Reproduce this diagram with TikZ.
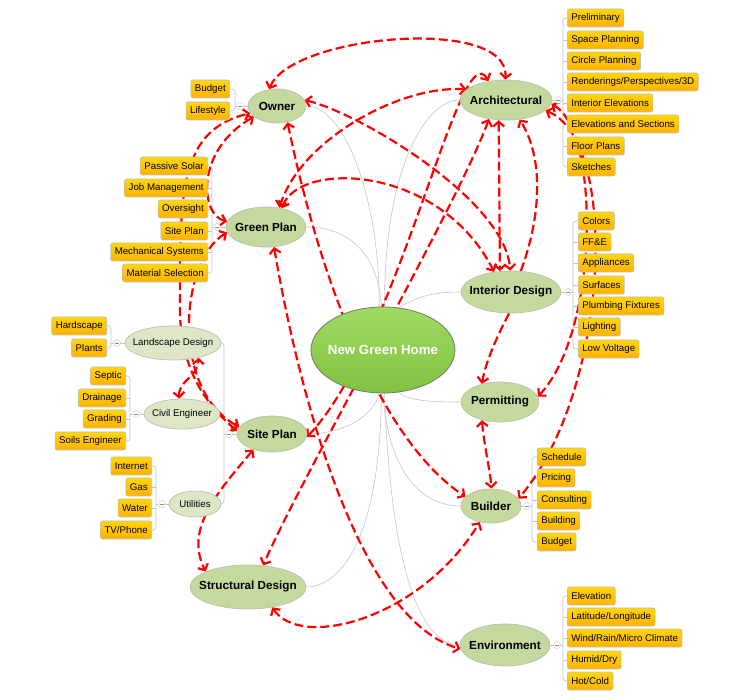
\documentclass[tikz,border=0pt]{standalone}
\usepackage{fontspec}
\setmainfont{Liberation Sans}
\usetikzlibrary{shapes.geometric,arrows.meta,backgrounds,shadings}
\definecolor{topicfill}{RGB}{197,216,157}
\definecolor{topicline}{RGB}{185,192,172}
\definecolor{subfill}{RGB}{221,231,199}
\definecolor{centertop}{RGB}{160,218,100}
\definecolor{centerbot}{RGB}{128,194,64}
\definecolor{centerline}{RGB}{112,128,100}
\definecolor{boxtop}{RGB}{255,214,12}
\definecolor{boxbot}{RGB}{255,178,0}
\definecolor{boxline}{RGB}{190,190,190}
\definecolor{treeline}{RGB}{196,196,196}
\definecolor{relred}{RGB}{255,0,0}
\newcommand{\ctext}[1]{\makebox[0pt]{#1}}
\begin{document}
\begin{tikzpicture}[x=1pt,y=-1pt,
  topic/.style={ellipse, draw=topicline, line width=0.7pt, fill=topicfill, inner sep=0pt, font=\fontsize{11.7}{12}\selectfont\bfseries},
  subtopic/.style={ellipse, draw=topicline, line width=0.7pt, fill=subfill, inner sep=0pt, font=\fontsize{9.7}{10}\selectfont},
  leafbox/.style={rectangle, rounded corners=2pt, draw=boxline, line width=0.6pt, top color=boxtop, bottom color=boxbot, minimum height=18pt, inner xsep=4pt, inner ysep=0pt, font=\fontsize{9.7}{10}\selectfont},
  rleaf/.style={leafbox, anchor=west},
  lleaf/.style={leafbox, anchor=east},
  tree/.style={draw=treeline, line width=0.6pt},
  rel/.style={draw=relred, line width=2.2pt, dash pattern=on 9pt off 4pt, >={Straight Barb[length=5pt,width=11pt]}},
  collapse/.style={circle, draw=treeline, fill=white, minimum size=7pt, inner sep=0pt,
    path picture={\draw[black!45,line width=0.5pt] ([xshift=-2pt]path picture bounding box.center) -- ([xshift=2pt]path picture bounding box.center);}}
]
\useasboundingbox (0,0) rectangle (729,700);

% main topics
\node[ellipse, draw=centerline, line width=0.8pt, top color=centertop, bottom color=centerbot, minimum width=144pt, minimum height=86pt, inner sep=0pt, text=white, font=\fontsize{13.3}{14}\selectfont\bfseries] (cn) at (383,350) {\ctext{New Green Home}};
\node[topic, minimum width=58pt, minimum height=34pt] (owner) at (277,106) {\ctext{Owner}};
\node[topic, minimum width=92pt, minimum height=40pt] (arch) at (506,100) {\ctext{Architectural}};
\node[topic, minimum width=80pt, minimum height=40pt] (gp) at (266,227) {\ctext{Green Plan}};
\node[topic, minimum width=100pt, minimum height=42pt] (id) at (511,292) {\ctext{Interior Design}};
\node[topic, minimum width=78pt, minimum height=40pt] (perm) at (500,402) {\ctext{Permitting}};
\node[topic, minimum width=70pt, minimum height=36pt] (sp) at (272,434) {\ctext{Site Plan}};
\node[topic, minimum width=60pt, minimum height=34pt] (bu) at (491,506) {\ctext{Builder}};
\node[topic, minimum width=116pt, minimum height=44pt] (sd) at (248,587) {\ctext{Structural Design}};
\node[topic, minimum width=90pt, minimum height=42pt] (en) at (505,645) {\ctext{Environment}};
\node[subtopic, minimum width=96pt, minimum height=34pt] (ld) at (173,343) {\ctext{Landscape Design}};
\node[subtopic, minimum width=76pt, minimum height=30pt] (ce) at (182,414) {\ctext{Civil Engineer}};
\node[subtopic, minimum width=52pt, minimum height=26pt] (ut) at (195,504) {\ctext{Utilities}};

% leaves
\node[rleaf] (a1) at (567,18) {Preliminary};
\node[rleaf] (a2) at (567,40) {Space Planning};
\node[rleaf] (a3) at (567,61) {Circle Planning};
\node[rleaf] (a4) at (567,82) {Renderings/Perspectives/3D};
\node[rleaf] (a5) at (567,103) {Interior Elevations};
\node[rleaf] (a6) at (567,124) {Elevations and Sections};
\node[rleaf] (a7) at (567,146) {Floor Plans};
\node[rleaf] (a8) at (567,167) {Sketches};

\node[rleaf] (i1) at (578,221) {Colors};
\node[rleaf] (i2) at (578,242) {FF\&E};
\node[rleaf] (i3) at (578,263) {Appliances};
\node[rleaf] (i4) at (578,285) {Surfaces};
\node[rleaf] (i5) at (578,306) {Plumbing Fixtures};
\node[rleaf] (i6) at (578,327) {Lighting};
\node[rleaf] (i7) at (578,349) {Low Voltage};

\node[rleaf] (b1) at (537,457) {Schedule};
\node[rleaf] (b2) at (537,478) {Pricing};
\node[rleaf] (b3) at (537,500) {Consulting};
\node[rleaf] (b4) at (537,521) {Building};
\node[rleaf] (b5) at (537,542) {Budget};

\node[rleaf] (e1) at (567,596) {Elevation};
\node[rleaf] (e2) at (567,617) {Latitude/Longitude};
\node[rleaf] (e3) at (567,638) {Wind/Rain/Micro Climate};
\node[rleaf] (e4) at (567,660) {Humid/Dry};
\node[rleaf] (e5) at (567,681) {Hot/Cold};

\node[lleaf] (o1) at (230,89) {Budget};
\node[lleaf] (o2) at (230,111) {Lifestyle};

\node[lleaf] (g1) at (208,166) {Passive Solar};
\node[lleaf] (g2) at (208,188) {Job Management};
\node[lleaf] (g3) at (208,209) {Oversight};
\node[lleaf] (g4) at (208,231) {Site Plan};
\node[lleaf] (g5) at (208,252) {Mechanical Systems};
\node[lleaf] (g6) at (208,273) {Material Selection};

\node[lleaf] (l1) at (107,326) {Hardscape};
\node[lleaf] (l2) at (107,348) {Plants};

\node[lleaf] (c1) at (126,376) {Septic};
\node[lleaf] (c2) at (126,398) {Drainage};
\node[lleaf] (c3) at (126,419) {Grading};
\node[lleaf] (c4) at (126,441) {Soils Engineer};

\node[lleaf] (u1) at (152,466) {Internet};
\node[lleaf] (u2) at (152,487) {Gas};
\node[lleaf] (u3) at (152,508) {Water};
\node[lleaf] (u4) at (152,530) {TV/Phone};

% bracket points
\coordinate (archb) at (563,100);
\coordinate (idb) at (573,292);
\coordinate (bub) at (532,506);
\coordinate (enb) at (563,645);
\coordinate (ownb) at (235,106);
\coordinate (gpb) at (212,227);
\coordinate (ldb) at (111,343);
\coordinate (ceb) at (130,414);
\coordinate (utb) at (156,504);
\coordinate (spb) at (224,434);

\begin{pgfonlayer}{background}
% tree from centre
\draw[tree] (cn.95) .. controls (380,200) and (345,106) .. (owner.east);
\draw[tree] (cn.88) .. controls (384,170) and (425,100) .. (arch.west);
\draw[tree] (cn.92) .. controls (378,250) and (345,227) .. (gp.east);
\draw[tree] (cn.70) .. controls (415,298) and (430,292) .. (id.west);
\draw[tree] (cn.-70) .. controls (410,402) and (440,402) .. (perm.west);
\draw[tree] (cn.-95) .. controls (370,425) and (330,434) .. (sp.east);
\draw[tree] (cn.-90) .. controls (388,470) and (420,506) .. (bu.west);
\draw[tree] (cn.-92) .. controls (380,540) and (340,587) .. (sd.east);
\draw[tree] (cn.-88) .. controls (392,600) and (430,645) .. (en.west);
% brackets
\draw[tree] (arch.east) -- (archb);
\draw[tree,rounded corners=3pt] (a1.west) -| (archb) |- (a8.west);
\foreach \n in {a2,a3,a4,a5,a6,a7} \draw[tree] (\n.west -| archb) -- (\n.west);
\draw[tree] (id.east) -- (idb);
\draw[tree,rounded corners=3pt] (i1.west) -| (idb) |- (i7.west);
\foreach \n in {i2,i3,i4,i5,i6} \draw[tree] (\n.west -| idb) -- (\n.west);
\draw[tree] (bu.east) -- (bub);
\draw[tree,rounded corners=3pt] (b1.west) -| (bub) |- (b5.west);
\foreach \n in {b2,b3,b4} \draw[tree] (\n.west -| bub) -- (\n.west);
\draw[tree] (en.east) -- (enb);
\draw[tree,rounded corners=3pt] (e1.west) -| (enb) |- (e5.west);
\foreach \n in {e2,e3,e4} \draw[tree] (\n.west -| enb) -- (\n.west);
\draw[tree] (owner.west) -- (ownb);
\draw[tree,rounded corners=3pt] (o1.east) -| (ownb) |- (o2.east);
\draw[tree] (gp.west) -- (gpb);
\draw[tree,rounded corners=3pt] (g1.east) -| (gpb) |- (g6.east);
\foreach \n in {g2,g3,g4,g5} \draw[tree] (\n.east -| gpb) -- (\n.east);
\draw[tree] (ld.west) -- (ldb);
\draw[tree,rounded corners=3pt] (l1.east) -| (ldb) |- (l2.east);
\draw[tree] (ce.west) -- (ceb);
\draw[tree,rounded corners=3pt] (c1.east) -| (ceb) |- (c4.east);
\foreach \n in {c2,c3} \draw[tree] (\n.east -| ceb) -- (\n.east);
\draw[tree] (ut.west) -- (utb);
\draw[tree,rounded corners=3pt] (u1.east) -| (utb) |- (u4.east);
\foreach \n in {u2,u3} \draw[tree] (\n.east -| utb) -- (\n.east);
\draw[tree] (sp.west) -- (spb);
\draw[tree,rounded corners=3pt] (ld.east) -| (spb) |- (ut.east);
\draw[tree] (ce.east -| spb) -- (ce.east);

% relationships
\draw[rel,<->] (owner.115) .. controls (290,35) and (510,15) .. (arch.92);
\draw[rel,<->] (owner.12) .. controls (360,113) and (505,200) .. (id.92);
\draw[rel,<->] (arch.165) .. controls (400,85) and (300,140) .. (gp.55);
\draw[rel,<->] (gp.50) .. controls (300,160) and (440,165) .. (id.130);
\draw[rel,<->] (arch.250) -- (id.118);
\draw[rel,->] (id.65) .. controls (540,220) and (545,160) .. (arch.305);
\draw[rel,<->] (arch.228) .. controls (460,200) and (300,480) .. (sd.55);
\draw[rel,<->] (sp.355) .. controls (400,340) and (460,30) .. (arch.133);
\draw[rel,<->] (owner.303) .. controls (320,280) and (380,440) .. (bu.160);
\draw[rel,<->] (gp.292) .. controls (300,400) and (360,620) .. (en.185);
\draw[rel,<->] (sd.320) .. controls (300,650) and (420,620) .. (bu.235);
\draw[rel,<->] (perm.225) .. controls (484,445) and (490,470) .. (bu.88);
\draw[rel,->] (id.265) .. controls (495,340) and (485,365) .. (perm.135);
\draw[rel,<->] (arch.355) .. controls (600,130) and (600,330) .. (perm.8);
\draw[rel,<->] (arch.345) .. controls (620,140) and (610,390) .. (bu.15);
\draw[rel,<->] (sp.220) .. controls (215,495) and (185,530) .. (sd.160);
\draw[rel,<->] (ce.100) .. controls (178,380) and (198,378) .. (ld.330);
\draw[rel,<->] (gp.188) .. controls (180,260) and (170,390) .. (sp.168);
\draw[rel,<->] (sp.175) .. controls (200,400) and (178,360) .. (180,300) .. controls (180,190) and (180,130) .. (owner.195);
\draw[rel,<->] (gp.172) .. controls (200,215) and (195,150) .. (owner.205);
\end{pgfonlayer}

% collapse markers
\node[collapse] (archc) at (558,100) {};
\node[collapse] (idc) at (568,292) {};
\node[collapse] (buc) at (527,506) {};
\node[collapse] (enc) at (557,645) {};
\node[collapse] (ownc) at (240,106) {};
\node[collapse] (gpc) at (217,227) {};
\node[collapse] (ldc) at (117,343) {};
\node[collapse] (cec) at (136,414) {};
\node[collapse] (utc) at (162,504) {};
\node[collapse] (spc) at (229,434) {};
\end{tikzpicture}
\end{document}
